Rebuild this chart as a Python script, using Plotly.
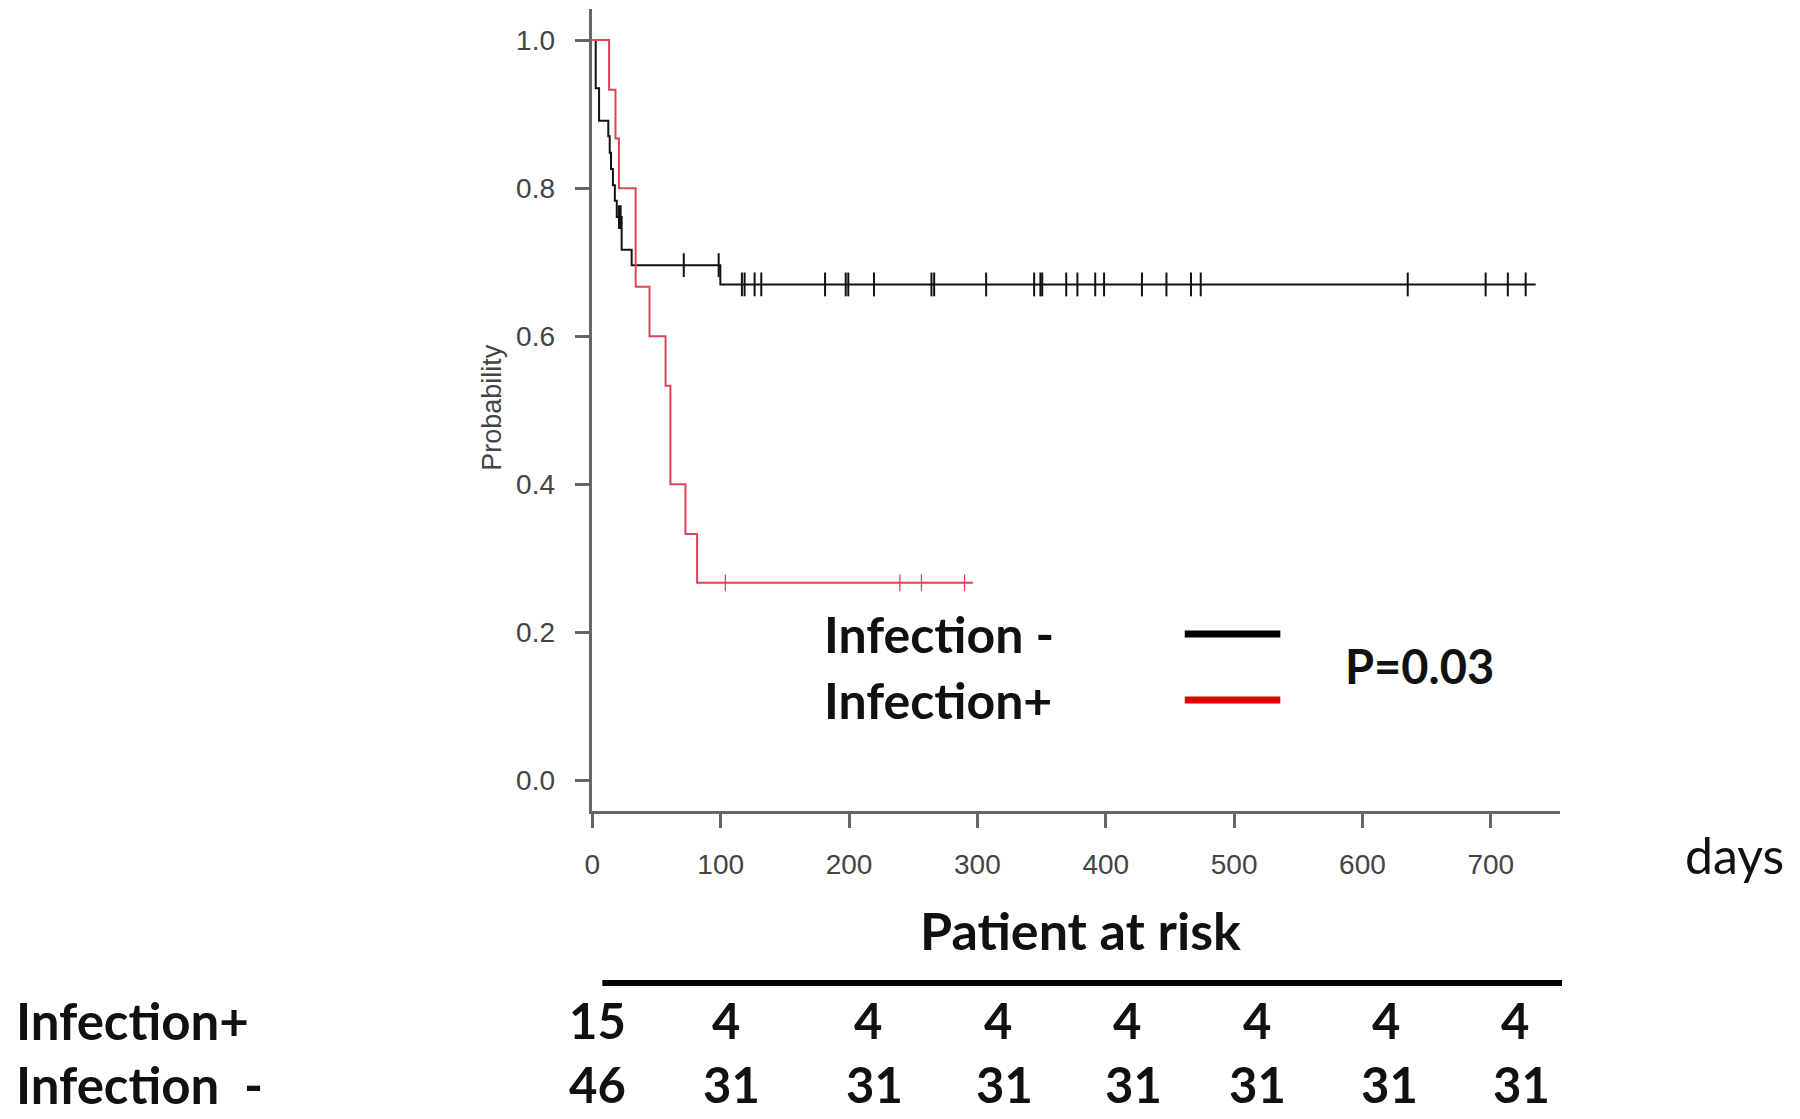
import numpy as np
import plotly.graph_objects as go

W, H = 1800, 1119

# ---------------- data ----------------
# Infection- (black), n = 46 : step times (days) and survival after each step
neg_times = [0, 2.6, 5.2, 12.4, 13.5, 14.5, 16, 17.5, 19, 22.8, 30.6, 99.7, 735]
neg_surv = [1.0, 0.935, 0.891, 0.870, 0.848, 0.826, 0.804, 0.783, 0.761, 0.717, 0.696, 0.670, 0.670]
neg_censor = [20.7, 22.0, 71.2, 98.4, 116.5, 118.6, 126.4, 131.6, 181.3, 197.4, 199.4, 219.4,
              264.2, 266.3, 306.8, 344.2, 349.1, 350.5, 369.2, 377.9, 391.8, 398.7, 428.2,
              447.3, 466.4, 474.0, 635.3, 696.0, 713.3, 727.2]

# Infection+ (red), n = 15
pos_times = [0, 13, 18, 20.7, 33.7, 44.5, 57, 60.8, 72.5, 81.6, 296.5]
pos_surv = [1.0, 0.933, 0.867, 0.800, 0.667, 0.600, 0.533, 0.400, 0.333, 0.267, 0.267]
pos_censor = [103.6, 239.6, 256.4, 290.0]

x_ticks = [0, 100, 200, 300, 400, 500, 600, 700]
y_ticks = [0.0, 0.2, 0.4, 0.6, 0.8, 1.0]

risk_groups = ["Infection+", "Infection&nbsp; -"]
risk_pos = ["15", "4", "4", "4", "4", "4", "4", "4"]
risk_neg = ["46", "31", "31", "31", "31", "31", "31", "31"]

legend_labels = ["Infection -", "Infection+"]
p_text = "P=0.03"

# ---------------- styling / layout constants ----------------
BLACK = "#111111"
RED = "#dd4455"
AXIS = "#666666"
TICKFONT = dict(family="Liberation Sans, Arial, sans-serif", size=28, color="#444444")
BOLD = "Lato, 'Open Sans', sans-serif"


def px(x):
    return x / W


def py(y):
    return 1 - y / H


def surv_at(times, surv, t):
    idx = np.searchsorted(np.array(times), t, side="right") - 1
    return [surv[i] for i in idx]


fig = go.Figure()

for times, surv, cens, col, nm in [
    (neg_times, neg_surv, neg_censor, BLACK, "Infection -"),
    (pos_times, pos_surv, pos_censor, RED, "Infection+"),
]:
    fig.add_trace(go.Scatter(x=times, y=surv, mode="lines", line=dict(color=col, width=2, shape="hv"),
                             name=nm, showlegend=False, hoverinfo="skip"))
    fig.add_trace(go.Scatter(x=cens, y=surv_at(times, surv, cens), mode="markers",
                             marker=dict(symbol="line-ns", size=17 if col == BLACK else 12,
                                         line=dict(color=col, width=2 if col == BLACK else 1.3)),
                             showlegend=False, hoverinfo="skip"))

fig.update_xaxes(domain=[px(587), px(1559)], range=[0, 754], tickvals=x_ticks,
                 ticktext=[str(v) for v in x_ticks], showline=True, linecolor=AXIS, linewidth=2.5,
                 ticks="outside", ticklen=15, tickwidth=2.5, tickcolor=AXIS, showgrid=False,
                 zeroline=False, tickfont=TICKFONT, ticklabelstandoff=12)
fig.update_yaxes(domain=[py(810.5), py(9)], range=[-0.0405, 1.042], tickvals=y_ticks,
                 ticktext=[f"{v:.1f}" for v in y_ticks], showline=True, linecolor=AXIS, linewidth=2.5,
                 ticks="outside", ticklen=15, tickwidth=2.5, tickcolor=AXIS, showgrid=False,
                 zeroline=False, tickfont=TICKFONT, ticklabelstandoff=14)

ann = []
# y-axis title
ann.append(dict(x=px(486), y=py(407), xref="paper", yref="paper", text="Probability", textangle=-90,
                showarrow=False, font=dict(family="Liberation Sans, Arial, sans-serif", size=27,
                                           color="#444444"), xanchor="center", yanchor="middle"))
# days
ann.append(dict(x=px(1734), y=py(855), xref="paper", yref="paper", text="days", showarrow=False,
                font=dict(family="Lato, sans-serif", size=50, color="#111111"),
                xanchor="center", yanchor="middle"))
# legend text
for lab, yy in zip(legend_labels, [634, 700]):
    ann.append(dict(x=px(818), y=py(yy), xref="paper", yref="paper", text=f"<b>{lab}</b>",
                    showarrow=False, font=dict(family=BOLD, size=50, color="#111111"),
                    xanchor="left", yanchor="middle"))
ann.append(dict(x=px(1418), y=py(666), xref="paper", yref="paper", text=f"<b>{p_text}</b>",
                showarrow=False, font=dict(family=BOLD, size=47, color="#111111"),
                xanchor="center", yanchor="middle"))
# Patient at risk
ann.append(dict(x=px(1077), y=py(930), xref="paper", yref="paper", text="<b>Patient at risk</b>",
                showarrow=False, font=dict(family=BOLD, size=52, color="#111111"),
                xanchor="center", yanchor="middle"))
# risk table
row_y = [1020, 1084]
col_x = [[592, 721, 864, 994, 1124, 1255, 1384, 1514],
         [592, 727, 870, 1001, 1131, 1255, 1388, 1520]]
for gi, (grp, vals) in enumerate(zip(risk_groups, [risk_pos, risk_neg])):
    ann.append(dict(x=px(6), y=py(row_y[gi]), xref="paper", yref="paper", text=f"<b>{grp}</b>",
                    showarrow=False, font=dict(family=BOLD, size=51, color="#111111"),
                    xanchor="left", yanchor="middle"))
    for v, cx in zip(vals, col_x[gi]):
        ann.append(dict(x=px(cx), y=py(row_y[gi]), xref="paper", yref="paper", text=f"<b>{v}</b>",
                        showarrow=False, font=dict(family=BOLD, size=49, color="#111111"),
                        xanchor="center", yanchor="middle"))

shapes = [
    dict(type="line", xref="paper", yref="paper", x0=px(1182), x1=px(1278), y0=py(634), y1=py(634),
         line=dict(color="#000000", width=7)),
    dict(type="line", xref="paper", yref="paper", x0=px(1182), x1=px(1278), y0=py(700), y1=py(700),
         line=dict(color="#e00000", width=7)),
    dict(type="line", xref="paper", yref="paper", x0=px(597), x1=px(1561), y0=py(983), y1=py(983),
         line=dict(color="#000000", width=6)),
]

fig.update_layout(width=W, height=H, margin=dict(l=0, r=0, t=0, b=0), paper_bgcolor="white",
                  plot_bgcolor="white", annotations=ann, shapes=shapes, showlegend=False)

fig.write_html("out.html", config={"displayModeBar": False},
               post_script="document.body.style.margin='0px';document.body.style.overflow='hidden';")
